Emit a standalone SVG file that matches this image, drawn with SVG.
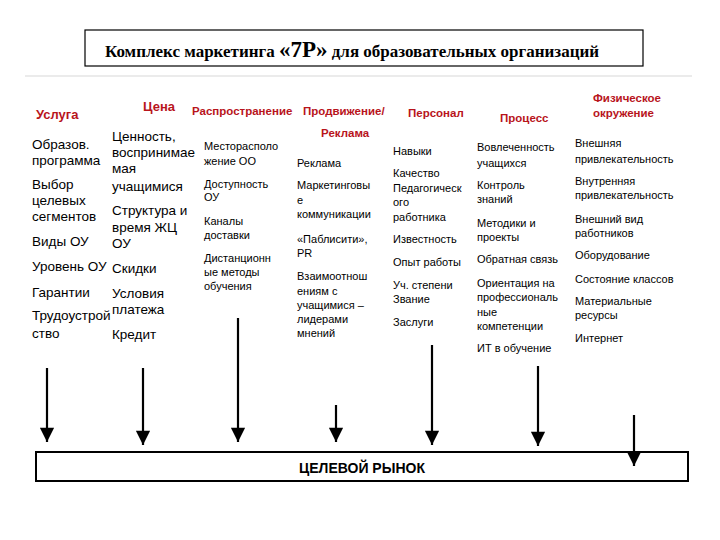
<svg xmlns="http://www.w3.org/2000/svg" width="720" height="540" viewBox="0 0 720 540">
<style>
.h{font-family:"Liberation Sans",Arial,sans-serif;font-weight:bold;font-size:11.5px;fill:#b8141c}
.a{font-family:"Liberation Sans",Arial,sans-serif;font-size:13.5px;fill:#000}
.b{font-family:"Liberation Sans",Arial,sans-serif;font-size:11px;fill:#000}
.ln{stroke:#000;stroke-width:2.2}
</style>
<defs>
<marker id="m" viewBox="0 0 10 10" refX="10" refY="5" markerWidth="7" markerHeight="6.5" orient="auto"><path d="M0,0 L10,5 L0,10Z" fill="#000"/></marker></defs>
<rect width="720" height="540" fill="#fff"/>
<g id="title"><rect x="85" y="30" width="558" height="36" fill="#fff" stroke="#000" stroke-width="1.2"/>
<text x="352" y="57" text-anchor="middle" font-family="Liberation Serif,serif" font-size="17" font-weight="bold">Комплекс маркетинга <tspan font-size="23">«7P»</tspan> для образовательных организаций</text></g>
<line x1="25" y1="76" x2="692" y2="76" stroke="#e4e4e4" stroke-width="1.5"/>
<g id="headers">
<text class="h" x="36" y="119" style="font-size:13px">Услуга</text>
<text class="h" x="143" y="111" style="font-size:13px">Цена</text>
<text class="h" x="192" y="115">Распространение</text>
<text class="h" x="303" y="115">Продвижение/</text>
<text class="h" x="321" y="137">Реклама</text>
<text class="h" x="408" y="117">Персонал</text>
<text class="h" x="500" y="122">Процесс</text>
<text class="h" x="593" y="102">Физическое</text>
<text class="h" x="593" y="117">окружение</text>
</g>
<g id="col1" class="a">
<text x="32" y="149">Образов.</text><text x="32" y="165">программа</text>
<text x="32" y="189">Выбор</text><text x="32" y="205">целевых</text><text x="32" y="221">сегментов</text>
<text x="32" y="246">Виды ОУ</text>
<text x="32" y="271">Уровень ОУ</text>
<text x="32" y="297">Гарантии</text>
<text x="32" y="320">Трудоустрой</text><text x="32" y="338">ство</text>
</g>
<g id="col2" class="a">
<text x="112" y="141">Ценность,</text><text x="112" y="157">воспринимае</text><text x="112" y="173">мая</text><text x="112" y="191">учащимися</text>
<text x="112" y="215">Структура и</text><text x="112" y="232">время ЖЦ</text><text x="112" y="248">ОУ</text>
<text x="112" y="273">Скидки</text>
<text x="112" y="298">Условия</text><text x="112" y="314">платежа</text>
<text x="112" y="339">Кредит</text>
</g>
<g id="col3" class="b">
<text x="204" y="150">Месторасполо</text><text x="204" y="165">жение ОО</text>
<text x="204" y="188">Доступность</text><text x="204" y="201">ОУ</text>
<text x="204" y="225">Каналы</text><text x="204" y="239">доставки</text>
<text x="204" y="262">Дистанционн</text><text x="204" y="276">ые методы</text><text x="204" y="290">обучения</text>
</g>
<g id="col4" class="b">
<text x="297" y="167">Реклама</text>
<text x="297" y="189">Маркетинговы</text><text x="297" y="204">е</text><text x="297" y="218">коммуникации</text>
<text x="297" y="243">«Паблисити»,</text><text x="297" y="257">PR</text>
<text x="297" y="280">Взаимоотнош</text><text x="297" y="295">ениям с</text><text x="297" y="309">учащимися –</text><text x="297" y="323">лидерами</text><text x="297" y="337">мнений</text>
</g>
<g id="col5" class="b">
<text x="393" y="155">Навыки</text>
<text x="393" y="177">Качество</text><text x="393" y="192">Педагогическ</text><text x="393" y="206">ого</text><text x="393" y="221">работника</text>
<text x="393" y="243">Известность</text>
<text x="393" y="266">Опыт работы</text>
<text x="393" y="289">Уч. степени</text><text x="393" y="303">Звание</text>
<text x="393" y="326">Заслуги</text>
</g>
<g id="col6" class="b">
<text x="477" y="151">Вовлеченность</text><text x="477" y="167">учащихся</text>
<text x="477" y="189">Контроль</text><text x="477" y="203">знаний</text>
<text x="477" y="227">Методики и</text><text x="477" y="241">проекты</text>
<text x="477" y="263">Обратная связь</text>
<text x="477" y="287">Ориентация на</text><text x="477" y="301">профессиональ</text><text x="477" y="316">ные</text><text x="477" y="330">компетенции</text>
<text x="477" y="352">ИТ в обучение</text>
</g>
<g id="col7" class="b">
<text x="575" y="147">Внешняя</text><text x="575" y="163">привлекательность</text>
<text x="575" y="185">Внутренняя</text><text x="575" y="199">привлекательность</text>
<text x="575" y="223">Внешний вид</text><text x="575" y="237">работников</text>
<text x="575" y="259">Оборудование</text>
<text x="575" y="283">Состояние классов</text>
<text x="575" y="305">Материальные</text><text x="575" y="319">ресурсы</text>
<text x="575" y="342">Интернет</text>
</g>
<g id="connectors" class="ln" marker-end="url(#m)">
<line x1="47" y1="368" x2="47" y2="442"/>
<line x1="143" y1="368" x2="143" y2="445"/>
<line x1="238" y1="318" x2="238" y2="442"/>
<line x1="336" y1="405" x2="336" y2="442"/>
<line x1="432" y1="345" x2="432" y2="445"/>
<line x1="538" y1="366" x2="538" y2="446"/>
<line x1="634" y1="415" x2="634" y2="466"/>
</g>
<g id="target"><rect x="36" y="452" width="652" height="29" fill="none" stroke="#000" stroke-width="2"/>
<text x="362" y="473" text-anchor="middle" font-family="Liberation Sans,Arial,sans-serif" font-weight="bold" font-size="14">ЦЕЛЕВОЙ РЫНОК</text></g>
</svg>
